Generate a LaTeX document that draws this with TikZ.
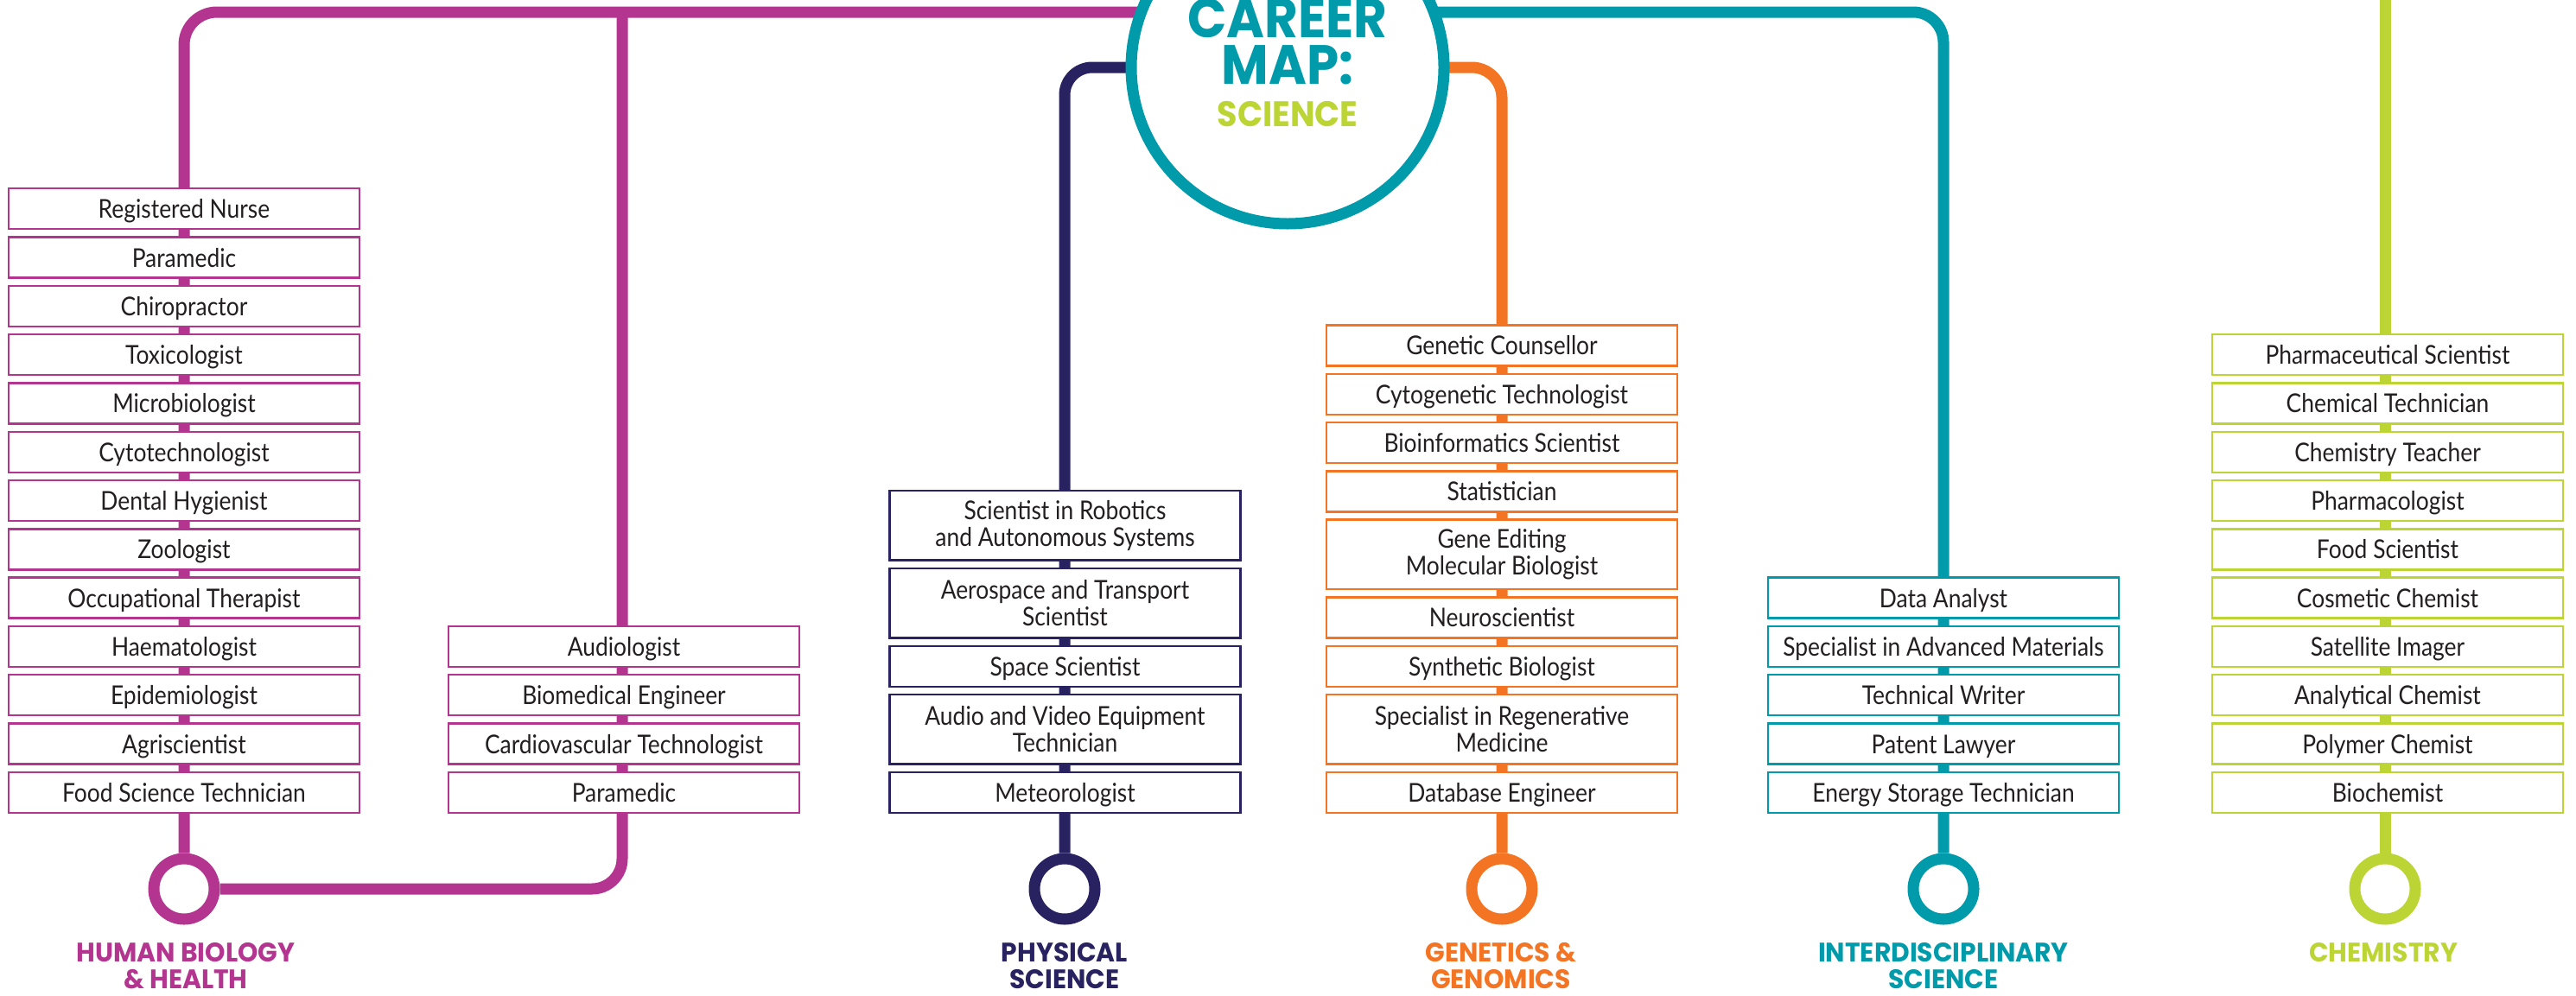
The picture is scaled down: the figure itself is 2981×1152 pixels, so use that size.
\documentclass[tikz,border=0pt]{standalone}
\usepackage{fontspec}
\setmainfont{Lato}
\newfontfamily\jobfamily{Lato}[FakeStretch=0.88]
\newfontfamily\headfamily{Poppins}[FakeStretch=0.96]
\newfontfamily\titlefamily{Poppins}[FakeStretch=0.93]
\definecolor{mag}{HTML}{B4358F}
\definecolor{navy}{HTML}{282360}
\definecolor{orng}{HTML}{F37423}
\definecolor{teal}{HTML}{009BAA}
\definecolor{lime}{HTML}{BCD434}
\definecolor{ink}{HTML}{231F20}
\pgfdeclarelayer{bg}
\pgfsetlayers{bg,main}
\tikzset{
  jobbox/.style={draw=#1, fill=white, line width=2.4pt, minimum width=406pt, minimum height=47pt,
    inner sep=0pt, text=ink, font=\jobfamily\fontsize{30}{31}\selectfont, align=center},
  one/.style={text height=22pt, text depth=0pt},
  two/.style={minimum height=80.5pt},
  railline/.style={line width=13pt, draw=#1},
  stop/.style={circle, draw=#1, fill=white, line width=13pt, minimum size=70pt, inner sep=0pt},
  catlabel/.style={text=#1, font=\headfamily\bfseries\fontsize{31}{31.5}\selectfont, align=center,
    anchor=north, inner sep=0pt},
  titletext/.style={anchor=base, inner sep=0pt, text depth=0pt, text=#1},
}
\begin{document}
\begin{tikzpicture}[x=1pt, y=-1pt]
\useasboundingbox (0,0) rectangle (2981,1152);

% hub
\node[circle, draw=teal, fill=white, line width=13pt, minimum size=362pt, inner sep=0pt] (hub) at (1490,78) {};
\coordinate (hubtop) at (1490,14);
\node[titletext=teal, text height=44pt, font=\titlefamily\bfseries\fontsize{64}{64}\selectfont] (t1) at (1490,43) {CAREER};
\node[titletext=teal, text height=44pt, font=\titlefamily\bfseries\fontsize{64}{64}\selectfont] (t2) at (1490,97) {MAP:};
\node[titletext=lime, text height=28pt, font=\titlefamily\bfseries\fontsize{41}{41}\selectfont] (t3) at (1490,146) {SCIENCE};

% stops
\node[stop=mag] (hb) at (213,1029) {};
\node[stop=navy] (ps) at (1232,1029) {};
\node[stop=orng] (gg) at (1738,1029) {};
\node[stop=teal] (is) at (2249,1029) {};
\node[stop=lime] (ch) at (2760,1029) {};
\coordinate (mj) at (720,14);
\coordinate (limetop) at (2760,0);

% labels
\node[catlabel=mag] (lhb) at (215,1091) {HUMAN BIOLOGY\\\& HEALTH};
\node[catlabel=navy] (lps) at (1232,1091) {PHYSICAL\\SCIENCE};
\node[catlabel=orng] (lgg) at (1737,1091) {GENETICS \&\\GENOMICS};
\node[catlabel=teal] (lis) at (2249,1091) {INTERDISCIPLINARY\\SCIENCE};
\node[catlabel=lime] (lch) at (2758,1091) {CHEMISTRY};

% human biology left column
\foreach \t [count=\i from 0] in {Registered Nurse, Paramedic, Chiropractor, Toxicologist, Microbiologist,
  Cytotechnologist, Dental Hygienist, Zoologist, Occupational Therapist, Haematologist, Epidemiologist,
  Agriscientist, Food Science Technician}
  \node[jobbox=mag, one] (hbl\i) at (213,{241.75+56.3*\i}) {\t};
% human biology right column
\foreach \t [count=\i from 9] in {Audiologist, Biomedical Engineer, Cardiovascular Technologist, Paramedic}
  \node[jobbox=mag, one] (hbr\i) at (722,{241.75+56.3*\i}) {\t};
% chemistry
\foreach \t [count=\i from 3] in {Pharmaceutical Scientist, Chemical Technician, Chemistry Teacher,
  Pharmacologist, Food Scientist, Cosmetic Chemist, Satellite Imager, Analytical Chemist, Polymer Chemist, Biochemist}
  \node[jobbox=lime, one] (chb\i) at (2763,{241.75+56.3*\i}) {\t};
% interdisciplinary
\foreach \t [count=\i from 8] in {Data Analyst, Specialist in Advanced Materials, Technical Writer,
  Patent Lawyer, Energy Storage Technician}
  \node[jobbox=teal, one] (isb\i) at (2249,{241.75+56.3*\i}) {\t};
% physical science
\node[jobbox=navy, two] (ps1) at (1232.5,608.4) {Scientist in Robotics\\and Autonomous Systems};
\node[jobbox=navy, two] (ps2) at (1232.5,698.2) {Aerospace and Transport\\Scientist};
\node[jobbox=navy, one] (ps3) at (1232.5,771.25) {Space Scientist};
\node[jobbox=navy, two] (ps4) at (1232.5,844.3) {Audio and Video Equipment\\Technician};
\node[jobbox=navy, one] (ps5) at (1232.5,917.35) {Meteorologist};
% genetics
\node[jobbox=orng, one] (gg1) at (1738,399.95) {Genetic Counsellor};
\node[jobbox=orng, one] (gg2) at (1738,456.25) {Cytogenetic Technologist};
\node[jobbox=orng, one] (gg3) at (1738,512.55) {Bioinformatics Scientist};
\node[jobbox=orng, one] (gg4) at (1738,568.85) {Statistician};
\node[jobbox=orng, two] (gg5) at (1738,641.9) {Gene Editing\\Molecular Biologist};
\node[jobbox=orng, one] (gg6) at (1738,714.95) {Neuroscientist};
\node[jobbox=orng, one] (gg7) at (1738,771.25) {Synthetic Biologist};
\node[jobbox=orng, two] (gg8) at (1738,844.3) {Specialist in Regenerative\\Medicine};
\node[jobbox=orng, one] (gg9) at (1738,917.35) {Database Engineer};

% rails
\begin{pgfonlayer}{bg}
  \draw[railline=mag, rounded corners=38pt] (hubtop) -| (hb.north);
  \draw[railline=mag, rounded corners=35pt] (mj) |- (hb.east);
  \draw[railline=navy, rounded corners=32pt] (hub.center) -| (ps.north);
  \draw[railline=orng, rounded corners=35pt] (hub.center) -| (gg.north);
  \draw[railline=teal, rounded corners=35pt] (hubtop) -| (is.north);
  \draw[railline=lime] (limetop) -- (ch.north);
\end{pgfonlayer}
\end{tikzpicture}
\end{document}
